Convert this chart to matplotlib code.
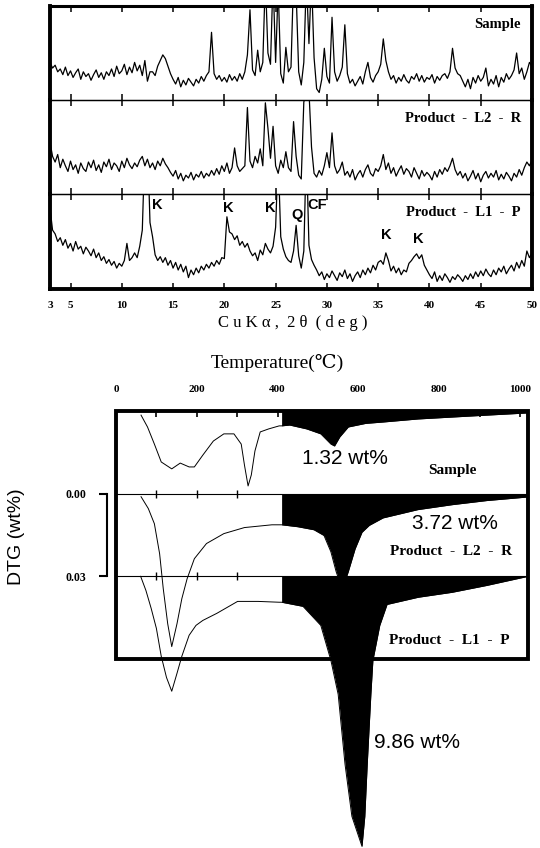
import numpy as np
import matplotlib.pyplot as plt
from matplotlib.patches import Rectangle

# ---------------- XRD data (CuKa, 2theta) ----------------
two_theta = np.arange(3, 50.01, 0.25)

xrd_sample = [40, 34, 37, 30, 33, 27, 35, 26, 31, 24, 29, 33, 22, 30, 25, 28,
              21, 27, 32, 24, 29, 22, 30, 26, 33, 25, 36, 28, 31, 38, 27, 35,
              29, 40, 31, 37, 26, 42, 20, 30, 30, 26, 36, 42, 48, 44, 36, 28,
              22, 17, 24, 14, 21, 16, 23, 19, 15, 22, 18, 25, 20, 26, 30, 72,
              28, 22, 26, 20, 24, 19, 27, 21, 25, 20, 28, 22, 30, 48, 96, 32,
              26, 53, 30, 40, 130, 50, 38, 130, 40, 120, 28, 18, 56, 30, 35, 130,
              115, 30, 16, 40, 130, 60, 130, 45, 12, 8, 22, 55, 25, 18, 88, 30,
              20, 26, 35, 80, 28, 18, 22, 15, 20, 25, 17, 30, 40, 24, 19, 26,
              30, 38, 65, 42, 30, 22, 26, 18, 24, 20, 27, 21, 18, 25, 22, 28,
              20, 26, 19, 24, 22, 27, 18, 25, 21, 26, 28, 23, 30, 55, 34, 28,
              26, 20, 14, 22, 12, 24, 18, 26, 20, 24, 34, 15, 22, 17, 26, 14,
              24, 19, 28, 22, 26, 32, 50, 28, 34, 22, 30, 40, 36]

xrd_l2r = [55, 40, 34, 42, 28, 37, 30, 24, 35, 26, 31, 22, 33, 27, 24, 34,
           28, 36, 25, 31, 23, 34, 29, 37, 26, 33, 30, 24, 35, 28, 38, 31,
           27, 33, 29, 36, 40, 30, 37, 28, 33, 26, 35, 30, 38, 32, 28, 23,
           19, 25, 16, 22, 14, 20, 17, 23, 15, 21, 18, 24, 17, 22, 19, 25,
           20, 27, 21, 30, 24, 33, 22, 28, 49, 30, 24, 27, 30, 92, 35, 28,
           40, 33, 48, 30, 97, 70, 38, 72, 30, 22, 36, 28, 45, 28, 24, 77,
           40, 20, 16, 98, 106, 110, 50, 22, 18, 25, 20, 30, 44, 28, 65, 30,
           22, 26, 34, 20, 24, 18, 26, 15, 21, 25, 18, 26, 31, 22, 19, 27,
           24, 30, 42, 26, 33, 22, 28, 19, 25, 30, 21, 27, 24, 18, 28, 22,
           16, 25, 19, 23, 20, 15, 24, 18, 26, 21, 28, 24, 30, 38, 26, 20,
           24, 17, 22, 14, 19, 25, 16, 22, 13, 20, 24, 17, 22, 18, 25, 15,
           21, 16, 23, 19, 14, 22, 18, 26, 20, 28, 34, 30, 36]

xrd_l1p = [85, 62, 58, 50, 54, 46, 52, 43, 48, 40, 50, 42, 45, 37, 44, 40,
           35, 42, 33, 38, 30, 34, 27, 31, 25, 29, 22, 27, 24, 30, 48, 30,
           33, 38, 33, 45, 62, 150, 160, 70, 55, 36, 30, 34, 28, 33, 25, 30,
           22, 28, 20, 26, 18, 24, 12, 20, 15, 22, 17, 24, 20, 26, 22, 28,
           24, 30, 26, 33, 32, 76, 60, 58, 52, 56, 46, 50, 44, 48, 40, 35,
           38, 30, 41, 36, 48, 42, 38, 45, 65, 140, 55, 42, 34, 30, 28, 40,
           67, 35, 22, 40, 150, 46, 31, 25, 20, 14, 18, 10, 16, 12, 19, 14,
           9, 17, 13, 20, 11, 16, 8, 14, 18, 12, 20, 15, 22, 17, 25, 20,
           28, 30, 26, 38, 30, 19, 24, 17, 22, 15, 20, 18, 27, 30, 34, 37,
           32, 36, 25, 20, 15, 11, 18, 8, 14, 9, 16, 12, 7, 13, 10, 15,
           12, 8, 14, 10, 16, 11, 18, 13, 19, 14, 21, 16, 13, 20, 15, 22,
           18, 24, 16, 21, 25, 19, 28, 22, 30, 24, 40, 33, 38]

xrd_names = ['Sample', 'Product  -  L2  -  R', 'Product  -  L1  -  P']
xrd_ticks = [3, 5, 10, 15, 20, 25, 30, 35, 40, 45, 50]

peak_text = ['K', 'K', 'K', 'Q', 'CF', 'K', 'K']
peak_2theta = [13.5, 20.35, 24.45, 27.07, 29.1, 35.75, 38.96]
peak_level = [88, 85, 85, 78, 88, 57, 53]

# ---------------- DTG data ----------------
temp_sample = [62, 78, 95, 112, 138, 159, 181, 194, 215, 241, 267, 292, 310, 318,
               327, 335, 344, 357, 378, 404, 410, 430, 472, 507, 532, 541, 554,
               575, 618, 661, 747, 832, 918, 1020]
dtg_sample = [0.0015, 0.0058, 0.0120, 0.0185, 0.0210, 0.0189, 0.0203, 0.0203,
              0.0160, 0.0109, 0.0083, 0.0083, 0.0120, 0.0196, 0.0272, 0.0232,
              0.0145, 0.0076, 0.0065, 0.0054, 0.0054, 0.0051, 0.0065, 0.0083,
              0.0120, 0.0127, 0.0094, 0.0058, 0.0045, 0.0040, 0.0029, 0.0022,
              0.0015, 0.0007]

temp_l2r = [62, 80, 95, 108, 117, 128, 138, 151, 163, 176, 194, 224, 267, 318,
            386, 410, 450, 490, 515, 532, 545, 560, 575, 592, 609, 627, 661,
            747, 832, 918, 1020]
dtg_l2r = [0.0011, 0.0054, 0.0109, 0.0218, 0.0345, 0.0472, 0.0555, 0.0472,
           0.0381, 0.0309, 0.0236, 0.0181, 0.0145, 0.0123, 0.0113, 0.0113,
           0.0120, 0.0131, 0.0152, 0.0211, 0.0283, 0.0348, 0.0283, 0.0200,
           0.0140, 0.0115, 0.0088, 0.0058, 0.0040, 0.0025, 0.0012]

temp_l1p = [61, 74, 87, 100, 112, 125, 138, 151, 163, 181, 198, 215, 250, 301,
            352, 404, 410, 463, 507, 532, 550, 567, 584, 609, 616, 622, 631,
            636, 653, 671, 748, 832, 918, 1020]
dtg_l1p = [0.0, 0.0051, 0.0116, 0.0189, 0.0290, 0.0367, 0.0417, 0.0352, 0.0290,
           0.0214, 0.0178, 0.0160, 0.0134, 0.0091, 0.0091, 0.0094, 0.0094,
           0.0109, 0.0178, 0.0305, 0.0428, 0.0682, 0.0871, 0.0980, 0.0871,
           0.0682, 0.0428, 0.0305, 0.0178, 0.0102, 0.0076, 0.0058, 0.0033, 0.0]

dtg_names = ['Sample', 'Product  -  L2  -  R', 'Product  -  L1  -  P']
loss_text = ['1.32 wt%', '3.72 wt%', '9.86 wt%']
fill_from = 410          # black area starts here (deg C)
dtg_step = 0.03          # spacing between the curves

serif_b = dict(family=['Liberation Serif', 'DejaVu Serif'], weight='bold')
sans = dict(family=['Liberation Sans', 'DejaVu Sans'])

W, H = 540, 848
fig = plt.figure(figsize=(W / 100, H / 100), dpi=100)


def px_axes(x0, y0, x1, y1):
    return fig.add_axes([x0 / W, 1 - y1 / H, (x1 - x0) / W, (y1 - y0) / H])


# ---------------- XRD panels ----------------
edges = [6, 100, 194, 289]
xrd_sets = [xrd_sample, xrd_l2r, xrd_l1p]
xrd_axes = []
for i in range(3):
    ax = px_axes(50, edges[i], 532, edges[i + 1])
    ax.set_facecolor('none')
    ax.plot(two_theta, xrd_sets[i], color='k', lw=0.9)
    ax.set_xlim(3, 50)
    ax.set_ylim(0, 100)
    ax.set_yticks([])
    ax.set_xticks(xrd_ticks)
    ax.tick_params(axis='x', direction='in', top=True, bottom=True,
                   length=4.5, width=1.1, labelbottom=(i == 2))
    ax.spines['left'].set_linewidth(2.8)
    ax.spines['right'].set_linewidth(2.8)
    ax.spines['top'].set_linewidth(2.2 if i == 0 else 0.9)
    ax.spines['bottom'].set_linewidth(2.8 if i == 2 else 0.9)
    ax.text(0.977, 0.80, xrd_names[i], transform=ax.transAxes, ha='right',
            va='center', fontsize=10.5, **serif_b)
    xrd_axes.append(ax)

axb = xrd_axes[2]
axb.set_xticklabels([str(t) for t in xrd_ticks], fontsize=8, **serif_b)
axb.tick_params(axis='x', pad=9)
for lab, pos, lev in zip(peak_text, peak_2theta, peak_level):
    axb.text(pos, lev, lab, ha='center', va='center', fontsize=10.5,
             weight='bold', family=sans['family'])

fig.text(293 / W, 1 - 323 / H, 'C u K α ,  2 θ  ( d e g )', ha='center',
         va='center', fontsize=12, family=serif_b['family'])

# ---------------- DTG panel ----------------
ax = px_axes(116, 411, 528, 659)
ax.set_facecolor('none')
ax.set_xlim(0, 1020)
ax.set_ylim(-dtg_step, 2 * dtg_step)

offsets = [2 * dtg_step, dtg_step, 0.0]
curves = [(temp_sample, dtg_sample), (temp_l2r, dtg_l2r), (temp_l1p, dtg_l1p)]
sep_ticks = [100, 200, 300]
for off in offsets[1:]:
    ax.axhline(off, color='k', lw=0.8, zorder=1)
    ax.plot(sep_ticks, [off] * len(sep_ticks), ls='none', marker='|',
            ms=6, mew=1, color='k', zorder=1)

for off, (t, d) in zip(offsets, curves):
    t = np.array(t)
    y = off - np.array(d)
    ax.plot(t, y, color='k', lw=0.7, zorder=3, clip_on=False)
    ax.fill_between(t, off, y, where=t >= fill_from, interpolate=False,
                    color='k', lw=0, zorder=2, clip_on=False)

ax.add_patch(Rectangle((0, 0), 1, 1, transform=ax.transAxes, fill=False,
                       lw=2.8, color='k', zorder=5, clip_on=False))

for s in ['top', 'right', 'bottom']:
    ax.spines[s].set_visible(False)
ax.spines['left'].set_position(('outward', 6.5))
ax.spines['left'].set_bounds(0.0, dtg_step)
ax.spines['left'].set_linewidth(1.5)
ax.set_yticks([dtg_step, 0.0])
ax.set_yticklabels(['0.00', '0.03'], fontsize=8.5, **serif_b)
ax.tick_params(axis='y', direction='out', length=6, width=1.5, pad=9)

ax.xaxis.set_ticks_position('top')
ax.set_xticks(range(0, 1001, 200))
ax.set_xticks(range(100, 1001, 200), minor=True)
ax.set_xticklabels([str(v) for v in range(0, 1001, 200)], fontsize=8, **serif_b)
ax.tick_params(axis='x', which='both', direction='in', length=4, width=1.2,
               pad=12)

label_xy = [(0.816, 0.762), (0.813, 0.435), (0.808, 0.073)]
for name, (lx, ly) in zip(dtg_names, label_xy):
    ax.text(lx, ly, name, transform=ax.transAxes, ha='center', va='center',
            fontsize=11, zorder=6, **serif_b)

loss_xy = [(0.556, 0.81, 'center'), (0.822, 0.548, 'center'), (0.626, -0.335, 'left')]
for txt, (lx, ly, ha) in zip(loss_text, loss_xy):
    ax.text(lx, ly, txt, transform=ax.transAxes, ha=ha, va='center',
            fontsize=15, zorder=6, **sans)

fig.text(277 / W, 1 - 363 / H, 'Temperature(℃)', ha='center', va='center',
         fontsize=14, family=serif_b['family'])
fig.text(17 / W, 1 - 537 / H, 'DTG (wt%)', ha='center', va='center',
         rotation=90, fontsize=14, **sans)

fig.savefig('out.png', dpi=100)
